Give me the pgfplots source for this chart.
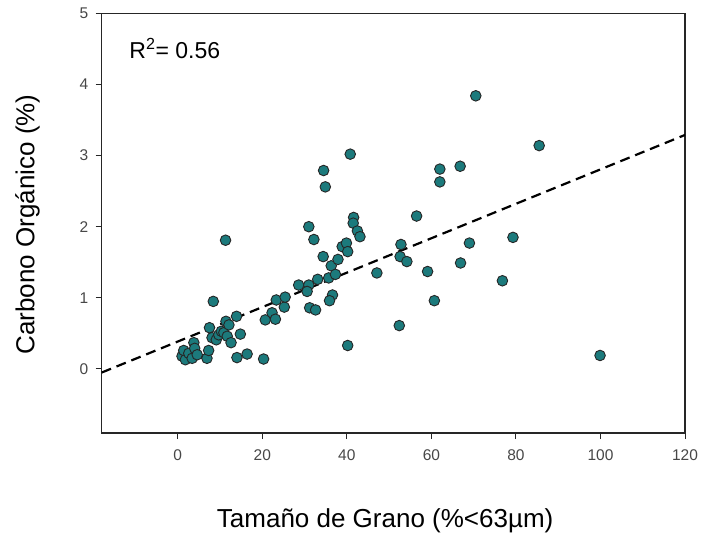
\documentclass[border=0pt]{standalone}
\usepackage{pgfplots}
\pgfplotsset{compat=1.18}
\usepackage{fontspec}
\setmainfont{Liberation Sans}
\definecolor{teal1}{RGB}{28,122,124}
\begin{document}
\begin{tikzpicture}
\path[use as bounding box] (-101.7pt,-102pt) rectangle (599.3pt,433pt);
\begin{axis}[
  at={(0,0)}, anchor=south west,
  scale only axis, width=583.3pt, height=419.7pt,
  xmin=-18, xmax=120, ymin=-0.9, ymax=5,
  xtick={0,20,...,120}, ytick={0,1,...,5},
  tick align=outside, tick pos=left,
  major tick length=6pt,
  axis line style={line width=1.2pt, black!85},
  tick style={line width=1pt, black!85},
  /pgf/number format/assume math mode=true,
  ticklabel style={font=\fontsize{15.5}{18}\selectfont, text=black!72},
  xticklabel style={yshift=-7pt},
  yticklabel style={xshift=-4pt},
  xlabel={Tamaño de Grano (\%<63µm)},
  ylabel={Carbono Orgánico (\%)},
  label style={font=\fontsize{26}{30}\selectfont},
  xlabel style={at={(axis description cs:0.486,-0.224)}, anchor=base},
  ylabel style={at={(axis description cs:-0.1152,0.497)}, anchor=base},
  clip=true,
]
\addplot[black, line width=2.2pt, dash pattern=on 10pt off 6pt] coordinates {(-18,-0.05) (120,3.29)};
\addplot[only marks, mark=*, mark size=5.3pt,
  mark options={fill=teal1, draw=black!85, line width=0.9pt}] coordinates {
(1.0,0.18) (1.4,0.26) (1.8,0.13) (2.6,0.22) (3.4,0.15) (3.8,0.37) (4.0,0.29) (4.6,0.20)
(6.9,0.15) (7.3,0.26) (7.5,0.58) (8.1,0.44) (8.4,0.95) (9.1,0.41) (9.7,0.48) (10.3,0.53)
(10.9,0.51) (11.7,0.46) (11.4,0.67) (12.1,0.62) (12.6,0.37) (13.9,0.74) (14.8,0.49)
(14.0,0.16) (16.4,0.21) (20.3,0.14) (11.3,1.81)
(20.7,0.69) (22.3,0.79) (23.1,0.70) (23.3,0.97) (25.2,0.87) (25.4,1.01) (28.6,1.18)
(31.0,1.18) (30.6,1.09) (31.2,0.86) (32.6,0.83) (31.0,2.00) (32.2,1.82) (33.1,1.26)
(34.4,1.58) (35.7,1.28) (36.3,1.45) (37.3,1.33) (37.9,1.54) (36.6,1.04) (35.9,0.96)
(38.9,1.72) (39.9,1.77) (40.2,1.65) (41.6,2.13) (41.5,2.05) (42.5,1.94) (43.1,1.86)
(34.5,2.79) (34.9,2.56) (40.8,3.02) (40.2,0.33) (47.1,1.35)
(52.4,0.61) (52.8,1.75) (52.6,1.58) (54.2,1.51) (56.5,2.15) (59.1,1.37) (60.7,0.96)
(62.0,2.81) (62.0,2.63) (66.8,2.85) (66.9,1.49) (69.0,1.77) (70.5,3.84) (76.8,1.24)
(79.3,1.85) (85.5,3.14) (99.9,0.19)
};
\node[anchor=base west, inner sep=0pt, font=\fontsize{23}{27}\selectfont] at (axis description cs:0.0473,0.8928) {R\textsuperscript{2}= 0.56};
\end{axis}
\end{tikzpicture}
\end{document}
